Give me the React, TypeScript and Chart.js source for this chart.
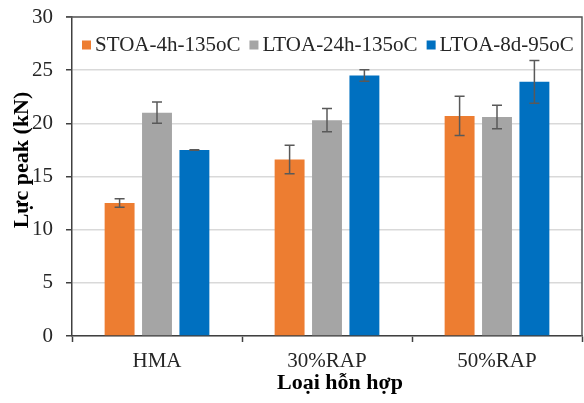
import React, { useEffect, useRef } from "react";
import { Chart, registerables } from "chart.js";

Chart.register(...registerables);

const categories = ["HMA", "30%RAP", "50%RAP"];
const seriesNames = ["STOA-4h-135oC", "LTOA-24h-135oC", "LTOA-8d-95oC"];
const seriesColors = ["#ED7D31", "#A5A5A5", "#0070C0"];
const stoaValues = [12.5, 16.6, 20.7];
const stoaErrors = [0.4, 1.35, 1.85];
const ltoa24Values = [21.0, 20.3, 20.6];
const ltoa24Errors = [1.0, 1.1, 1.1];
const ltoa8dValues = [17.5, 24.5, 23.9];
const ltoa8dErrors = [0.02, 0.55, 2.0];
const yTitle = "Lực peak (kN)";
const xTitle = "Loại hỗn hợp";

const FONT = "'Liberation Serif', 'Times New Roman', serif";

const errorBarPlugin = {
  id: "errorBars",
  afterDatasetsDraw(chart: any) {
    const ctx = chart.ctx;
    const y = chart.scales.y;
    ctx.save();
    ctx.strokeStyle = "#595959";
    ctx.lineWidth = 1.5;
    chart.data.datasets.forEach((ds: any, di: number) => {
      const meta = chart.getDatasetMeta(di);
      meta.data.forEach((el: any, i: number) => {
        const v = ds.data[i];
        const e = ds.errors[i];
        const yt = y.getPixelForValue(v + e);
        const yb = y.getPixelForValue(v - e);
        const x = el.x;
        ctx.beginPath();
        ctx.moveTo(x, yt);
        ctx.lineTo(x, yb);
        ctx.moveTo(x - 5, yt);
        ctx.lineTo(x + 5, yt);
        ctx.moveTo(x - 5, yb);
        ctx.lineTo(x + 5, yb);
        ctx.stroke();
      });
    });
    ctx.restore();
  },
};

const framePlugin = {
  id: "frameAndTitles",
  afterDraw(chart: any) {
    const ctx = chart.ctx;
    const a = chart.chartArea;
    ctx.save();
    ctx.strokeStyle = "#595959";
    ctx.lineWidth = 1.5;
    ctx.beginPath();
    ctx.moveTo(a.left - 6, a.top);
    ctx.lineTo(a.right, a.top);
    ctx.lineTo(a.right, a.bottom);
    ctx.stroke();

    // legend
    ctx.font = `21px ${FONT}`;
    ctx.textBaseline = "middle";
    ctx.textAlign = "left";
    let x = a.left + 10;
    const ly = a.top + 28;
    chart.data.datasets.forEach((ds: any) => {
      ctx.fillStyle = ds.backgroundColor;
      ctx.fillRect(x, ly - 4.5, 9, 9);
      x += 13;
      ctx.fillStyle = "#262626";
      ctx.fillText(ds.label, x, ly);
      x += ctx.measureText(ds.label).width + 9;
    });

    // axis titles
    ctx.fillStyle = "#000000";
    ctx.font = `bold 22px ${FONT}`;
    ctx.textAlign = "center";
    ctx.textBaseline = "middle";
    ctx.fillText(xTitle, 340, 383);
    ctx.translate(22, 160);
    ctx.rotate(-Math.PI / 2);
    ctx.fillText(yTitle, 0, 0);
    ctx.restore();
  },
};

export default function App() {
  const ref = useRef<HTMLCanvasElement | null>(null);
  useEffect(() => {
    if (!ref.current) return;
    const valueSets = [stoaValues, ltoa24Values, ltoa8dValues];
    const errorSets = [stoaErrors, ltoa24Errors, ltoa8dErrors];
    const chart = new Chart(ref.current, {
      type: "bar",
      data: {
        labels: categories,
        datasets: seriesNames.map((name, i) => ({
          label: name,
          data: valueSets[i],
          errors: errorSets[i],
          backgroundColor: seriesColors[i],
          borderWidth: 0,
          categoryPercentage: 0.66,
          barPercentage: 0.8,
        })) as any,
      },
      options: {
        animation: false,
        responsive: false,
        maintainAspectRatio: false,
        layout: { padding: { left: 0, top: 17, right: 2, bottom: 0 } },
        plugins: { legend: { display: false }, tooltip: { enabled: false } },
        scales: {
          x: {
            offset: true,
            grid: {
              display: true,
              drawOnChartArea: false,
              drawTicks: true,
              tickLength: 6,
              tickColor: "#404040",
              tickWidth: 1.5,
              offset: true,
            },
            border: { display: true, color: "#404040", width: 1.5 },
            ticks: {
              color: "#262626",
              font: { family: FONT, size: 21 },
              padding: 7,
            },
            afterFit(scale: any) {
              scale.height = 67;
              scale.paddingLeft = 0;
              scale.paddingRight = 0;
            },
          },
          y: {
            min: 0,
            max: 30,
            ticks: {
              stepSize: 5,
              color: "#262626",
              font: { family: FONT, size: 21 },
              padding: 13,
            },
            grid: {
              color: "#d9d9d9",
              lineWidth: 1.5,
              tickLength: 6,
              tickColor: "#404040",
              tickWidth: 1.5,
            },
            border: { display: true, color: "#404040", width: 1.5 },
            afterFit(scale: any) {
              scale.width = 72;
              scale.paddingTop = 0;
              scale.paddingBottom = 0;
            },
          },
        },
      },
      plugins: [errorBarPlugin, framePlugin],
    });
    return () => chart.destroy();
  }, []);
  return (
    <div style={{ position: "fixed", left: 0, top: 0, width: 584, height: 403, background: "#fff" }}>
      <canvas ref={ref} width={584} height={403} style={{ width: 584, height: 403 }} />
    </div>
  );
}
